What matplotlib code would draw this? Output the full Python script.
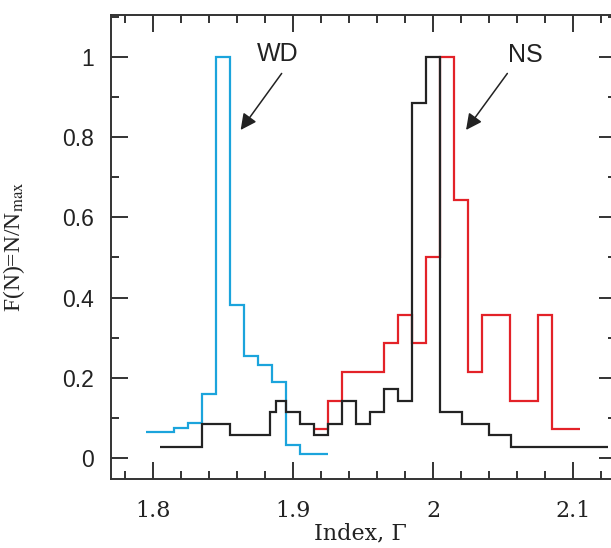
import numpy as np
import matplotlib.pyplot as plt
from matplotlib.ticker import MultipleLocator

plt.rcParams['mathtext.fontset'] = 'stix'

# white dwarf systems
wd_edges = [1.795, 1.815, 1.825, 1.835, 1.845, 1.855, 1.865, 1.875, 1.885, 1.895, 1.905, 1.925]
wd_frac = [0.064, 0.074, 0.087, 0.159, 1.0, 0.381, 0.254, 0.232, 0.190, 0.032, 0.010]

# all sources
all_edges = [1.805, 1.835, 1.855, 1.8836, 1.888, 1.895, 1.905, 1.915, 1.925, 1.935, 1.945,
             1.955, 1.965, 1.975, 1.985, 1.995, 2.005, 2.0205, 2.040, 2.0555, 2.125]
all_frac = [0.0286, 0.0857, 0.057, 0.114, 0.143, 0.114, 0.0857, 0.057, 0.0857, 0.143,
            0.0857, 0.114, 0.171, 0.143, 0.886, 1.0, 0.114, 0.0857, 0.057, 0.0286]

# neutron star systems
ns_edges = [1.915, 1.925, 1.935, 1.965, 1.975, 1.985, 1.995, 2.005, 2.015, 2.025, 2.035,
            2.055, 2.075, 2.085, 2.105]
ns_frac = [0.0714, 0.143, 0.214, 0.286, 0.357, 0.286, 0.5, 1.0, 0.643, 0.214, 0.357,
           0.143, 0.357, 0.0714]

fig = plt.figure(figsize=(6.11, 5.48), dpi=100)
ax = fig.add_axes([111/611, 69/548, 505/611, 464/548])

ax.stairs(ns_frac, ns_edges, baseline=None, color='#e32228', lw=1.6)
ax.stairs(wd_frac, wd_edges, baseline=None, color='#1ba4dc', lw=1.6)
ax.stairs(all_frac, all_edges, baseline=None, color='#232323', lw=1.6)

ax.set_xlim(1.77, 2.1307)
ax.set_ylim(-0.0524, 1.1047)

ax.xaxis.set_major_locator(MultipleLocator(0.1))
ax.xaxis.set_minor_locator(MultipleLocator(0.02))
ax.yaxis.set_major_locator(MultipleLocator(0.2))
ax.yaxis.set_minor_locator(MultipleLocator(0.1))
ax.set_xticks([1.8, 1.9, 2.0, 2.1])
ax.set_xticklabels(['1.8', '1.9', '2', '2.1'])
ax.set_yticks([0, 0.2, 0.4, 0.6, 0.8, 1.0])
ax.set_yticklabels(['0', '0.2', '0.4', '0.6', '0.8', '1'])

ax.tick_params(which='both', direction='in', top=True, right=True, width=1.4, color='#333333')
ax.tick_params(which='major', length=12.2)
ax.tick_params(which='minor', length=5.8)
ax.tick_params(axis='x', which='major', pad=15)
ax.tick_params(axis='y', which='major', pad=12)
for lab in ax.get_xticklabels():
    lab.set_family('DejaVu Serif')
    lab.set_fontsize(16)
    lab.set_color('#222222')
for lab in ax.get_yticklabels():
    lab.set_family('Liberation Sans')
    lab.set_fontsize(16.5)
    lab.set_color('#222222')
for sp in ax.spines.values():
    sp.set_linewidth(1.4)
    sp.set_color('#333333')

ax.set_xlabel('Index, \u0393', family='DejaVu Serif', fontsize=16, color='#222222')
ax.xaxis.set_label_coords(0.493, -0.094)
ax.set_ylabel('F(N)=N/N$_{\\rm max}$', family='Liberation Serif', fontsize=17, color='#222222')
ax.yaxis.set_label_coords(-0.166, 0.5)

arrow = dict(arrowstyle='-|>', mutation_scale=24, lw=1.1, color='#222222', shrinkA=0, shrinkB=0)
ax.text(1.8893, 1.0075, 'WD', family='Liberation Sans', fontsize=18, ha='center', va='center', color='#222222')
ax.annotate('', xy=(1.8626, 0.818), xytext=(1.8919, 0.959), arrowprops=arrow)
ax.text(2.0657, 1.005, 'NS', family='Liberation Sans', fontsize=18, ha='center', va='center', color='#222222')
ax.annotate('', xy=(2.0236, 0.818), xytext=(2.0531, 0.959), arrowprops=arrow)

fig.savefig('out.png', dpi=100)
